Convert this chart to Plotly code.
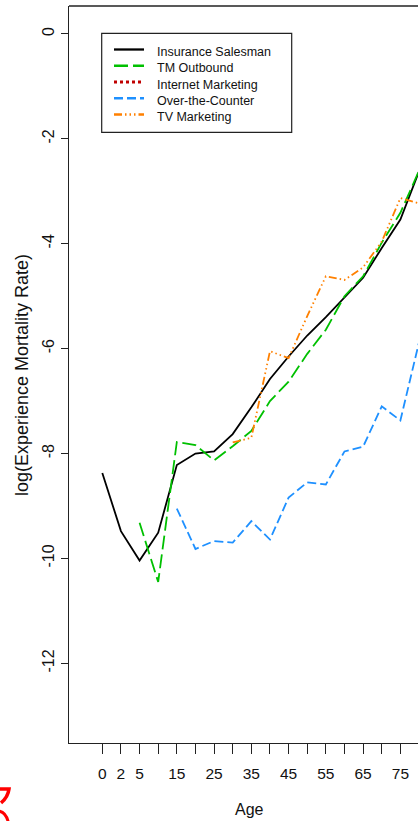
import plotly.graph_objects as go

# ---------------- data ----------------
ages = [0, 2, 5, 10, 15, 20, 25, 30, 35, 40, 45, 50, 55, 60, 65, 70, 75, 80]
age_tick_labels = ["0", "2", "5", "", "15", "", "25", "", "35", "", "45", "", "55", "", "65", "", "75", ""]

series_names = ["Insurance Salesman", "TM Outbound", "Internet Marketing", "Over-the-Counter", "TV Marketing"]

insurance_salesman = [-8.37, -9.48, -10.04, -9.51, -8.22, -8.00, -7.96, -7.63, -7.12, -6.58,
                      -6.15, -5.75, -5.40, -5.03, -4.65, -4.08, -3.54, -2.62]
tm_outbound = [None, None, -9.32, -10.45, -7.78, -7.84, -8.13, -7.86, -7.57, -7.00,
               -6.63, -6.10, -5.64, -5.00, -4.62, -3.98, -3.41, -2.61]
internet_marketing = [None] * 18   # no visible values in the shown part of the chart
over_the_counter = [None, None, None, None, -9.05, -9.82, -9.67, -9.70, -9.29, -9.64,
                    -8.84, -8.55, -8.59, -7.96, -7.87, -7.10, -7.37, -5.88]
tv_marketing = [None, None, None, None, None, None, None, -7.79, -7.70, -6.05,
                -6.18, -5.38, -4.62, -4.69, -4.45, -3.96, -3.13, -3.23]

y_ticks = [-12, -10, -8, -6, -4, -2, 0]

# ---------------- styles ----------------
W, H = 418, 821
L, R, T, B = 69, 418, 6, 743          # plot area in pixels
colors = ["#000000", "#00C000", "#C00000", "#1E90FF", "#FF8000"]
dashes = ["solid", "14px,5px", "3px,3px", "9px,4px", "8px,3px,1.5px,3px,1.5px,3px,1.5px,3px"]
widths = [1.8, 1.8, 2.5, 1.8, 1.8]
values = [insurance_salesman, tm_outbound, internet_marketing, over_the_counter, tv_marketing]

FONT = "Liberation Sans, Arial, Helvetica, sans-serif"

def px(x):
    return (x - L) / (R - L)

def py(y):
    return (B - y) / (B - T)

idx = list(range(len(ages)))

fig = go.Figure()
for name, vals, c, d, w in zip(series_names, values, colors, dashes, widths):
    fig.add_trace(go.Scatter(x=idx, y=vals, mode="lines", name=name,
                             line=dict(color=c, dash=d, width=w),
                             connectgaps=False, showlegend=False))

# x range chosen so index 0 sits at px 102.3 with 18.63 px between categories
x_unit = 18.63
x0_px = 102.3
xr = [(L - x0_px) / x_unit, (R - x0_px) / x_unit]

fig.update_layout(
    width=W, height=H,
    margin=dict(l=L, r=W - R, t=T, b=H - B),
    paper_bgcolor="white", plot_bgcolor="white",
    showlegend=False,
    xaxis=dict(range=xr, tickmode="array", tickvals=idx, ticktext=age_tick_labels,
               showgrid=False, zeroline=False, showline=True, linecolor="#222", linewidth=1.3,
               ticks="outside", ticklen=10, tickwidth=1.2, tickcolor="#222",
               tickfont=dict(family=FONT, size=15.5, color="#111"), ticklabelstandoff=6),
    yaxis=dict(range=[-13.52, 0.533], tickmode="array", tickvals=y_ticks,
               ticktext=[str(v) for v in y_ticks],
               showgrid=False, zeroline=False, showline=True, linecolor="#222", linewidth=1.3,
               ticks="outside", ticklen=7, tickwidth=1.2, tickcolor="#222", tickangle=-90,
               tickfont=dict(family=FONT, size=16, color="#111"), ticklabelstandoff=0),
)

shapes = []
# top border of the box
shapes.append(dict(type="line", xref="paper", yref="paper", x0=0, x1=1, y0=1, y1=1,
                   line=dict(color="#222", width=1.3)))
# legend box
shapes.append(dict(type="rect", xref="paper", yref="paper",
                   x0=px(101.7), x1=px(291.7), y0=py(33.3), y1=py(132.3),
                   line=dict(color="#222", width=1.2), fillcolor="white"))
annotations = []
row0, step = 49.5, 16.25
for i, (name, c, d, w) in enumerate(zip(series_names, colors, dashes, widths)):
    yy = row0 + i * step
    shapes.append(dict(type="line", xref="paper", yref="paper",
                       x0=px(114), x1=px(144), y0=py(yy), y1=py(yy),
                       line=dict(color=c, dash=d, width=w + 0.5)))
    annotations.append(dict(text=name, xref="paper", yref="paper", x=px(154.5), y=py(yy + 2.5),
                            xanchor="left", yanchor="middle", showarrow=False,
                            font=dict(family=FONT, size=12.5, color="#111")))

# axis titles
annotations.append(dict(text="Age", xref="paper", yref="paper", x=px(249.5), y=py(809),
                        xanchor="center", yanchor="middle", showarrow=False,
                        font=dict(family=FONT, size=16, color="#111")))
annotations.append(dict(text="log(Experience Mortality Rate)", xref="paper", yref="paper",
                        x=px(22), y=py(375), xanchor="center", yanchor="middle",
                        textangle=-90, showarrow=False,
                        font=dict(family=FONT, size=18, color="#111")))

# cropped red glyph fragment at the bottom-left corner (drawn as strokes)
def ppath(points_cmds):
    out = []
    for cmd, pts in points_cmds:
        coords = " ".join(f"{px(x):.5f},{py(y):.5f}" for x, y in pts)
        out.append(f"{cmd} {coords}")
    return " ".join(out)

shapes.append(dict(type="path", xref="paper", yref="paper",
                   path=ppath([("M", [(-2, 789)]), ("L", [(9, 789)]), ("Q", [(8, 797), (1, 803)])]),
                   line=dict(color="#FF0000", width=3.5)))
shapes.append(dict(type="path", xref="paper", yref="paper",
                   path=ppath([("M", [(-2, 811)]), ("Q", [(6, 811.5), (8.5, 823)])]),
                   line=dict(color="#FF0000", width=3)))

fig.update_layout(shapes=shapes, annotations=annotations)
fig.write_html("out.html")
